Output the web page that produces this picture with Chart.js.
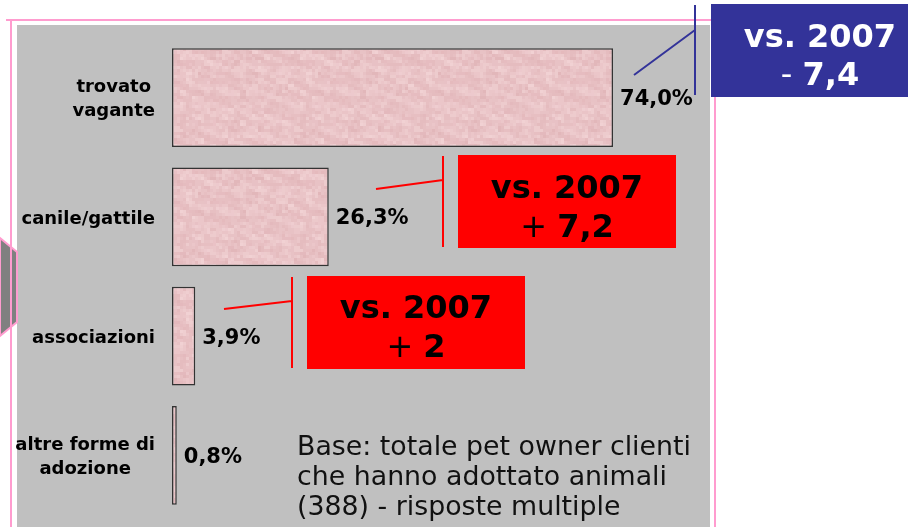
<!DOCTYPE html>
<html>
<head>
<meta charset="utf-8">
<script src="https://cdn.jsdelivr.net/npm/chart.js@4.4.1/dist/chart.umd.min.js"></script>
<style>
  html, body { margin: 0; padding: 0; background: #fff; overflow: hidden; }
  canvas { display: block; }
</style>
</head>
<body>
<canvas id="chart" width="910" height="527"></canvas>
<script>
const categories = [['trovato', 'vagante'], ['canile/gattile'], ['associazioni'], ['altre forme di', 'adozione']];
const shares = [74.0, 26.3, 3.9, 0.8];
const deltaVs2007 = [-7.4, 7.2, 2];
const baseNote = ['Base: totale pet owner clienti', 'che hanno adottato animali', '(388) - risposte multiple'];

const FONT = '"DejaVu Sans", Verdana, sans-serif';
const pct = v => v.toFixed(1).replace('.', ',') + '%';
const delta = v => (Number.isInteger(v) ? String(v) : v.toFixed(1).replace('.', ','));

// deterministic pink "paper" texture like the original fill
function pinkTexture(ctx) {
  const c = document.createElement('canvas');
  c.width = 120; c.height = 120;
  const g = c.getContext('2d');
  g.fillStyle = '#e8c2c5';
  g.fillRect(0, 0, 120, 120);
  const shades = ['rgba(215,160,168,0.18)', 'rgba(250,225,228,0.28)', 'rgba(225,175,182,0.15)', 'rgba(245,215,218,0.22)'];
  for (let layer = 0; layer < 2; layer++) {
    const s = layer ? 6 : 3;
    for (let i = 0; i < 120 / s; i++) {
      for (let j = 0; j < 120 / s; j++) {
        let h = Math.imul(i + 7 * layer + 1, 374761393) + Math.imul(j + 3, 668265263);
        h = Math.imul(h ^ (h >>> 13), 1274126177) >>> 0;
        if (h % 3 === 0) continue;
        g.fillStyle = shades[(h >>> 4) % shades.length];
        g.fillRect(i * s, j * s, s, s);
      }
    }
  }
  return ctx.createPattern(c, 'repeat');
}

// slide background: pink frame, grey panel, arrow stub on the left
const backdrop = {
  id: 'backdrop',
  beforeDraw(chart) {
    const ctx = chart.ctx;
    ctx.save();
    ctx.fillStyle = '#fff';
    ctx.fillRect(0, 0, chart.width, chart.height);
    ctx.fillStyle = '#c0c0c0';
    ctx.fillRect(17, 25, 693, 502);

    ctx.beginPath();
    ctx.moveTo(0, 238); ctx.lineTo(17, 252); ctx.lineTo(17, 322); ctx.lineTo(0, 336);
    ctx.closePath();
    ctx.fillStyle = '#808080';
    ctx.fill();
    ctx.strokeStyle = '#ff9ccf';
    ctx.lineWidth = 2;
    ctx.stroke();

    ctx.beginPath();
    ctx.moveTo(6, 20); ctx.lineTo(716, 20);
    ctx.moveTo(11, 20); ctx.lineTo(11, 527);
    ctx.moveTo(715, 20); ctx.lineTo(715, 527);
    ctx.stroke();
    ctx.restore();
  }
};

// category labels: right-aligned blocks with centred lines, placed on the y scale
const catLabels = {
  id: 'catLabels',
  afterDraw(chart) {
    const ctx = chart.ctx;
    const y = chart.scales.y;
    ctx.save();
    ctx.font = 'bold 18px ' + FONT;
    ctx.fillStyle = '#000';
    ctx.textAlign = 'center';
    ctx.textBaseline = 'middle';
    const lh = 24;
    chart.data.labels.forEach((lines, i) => {
      const w = Math.max(...lines.map(l => ctx.measureText(l).width));
      const cx = chart.chartArea.left - 17 - w / 2;
      const cy = y.getPixelForValue(i) + 2;
      lines.forEach((l, k) => {
        ctx.fillText(l, cx, cy + (k - (lines.length - 1) / 2) * lh);
      });
    });
    ctx.restore();
  }
};

const valueLabels = {
  id: 'valueLabels',
  afterDatasetsDraw(chart) {
    const ctx = chart.ctx;
    ctx.save();
    ctx.font = 'bold 21px ' + FONT;
    ctx.fillStyle = '#000';
    ctx.textAlign = 'left';
    ctx.textBaseline = 'middle';
    chart.getDatasetMeta(0).data.forEach((bar, i) => {
      ctx.fillText(pct(chart.data.datasets[0].data[i]), bar.x + 7, bar.y + 2);
    });
    ctx.restore();
  }
};

// "vs. 2007" call-outs and the base note
const callouts = {
  id: 'callouts',
  afterDraw(chart) {
    const ctx = chart.ctx;
    const boxes = [
      { r: [711, 4, 197, 93], fill: '#333399', ink: '#fff', v: [695, 5, 95], d: [634, 75, 695, 30], cx: 820, b1: 47, b2: 85 },
      { r: [458, 155, 218, 93], fill: '#ff0000', ink: '#000', v: [443, 156, 247], d: [376, 189, 443, 180], cx: 567, b1: 198, b2: 237 },
      { r: [307, 276, 218, 93], fill: '#ff0000', ink: '#000', v: [292, 277, 368], d: [224, 309, 292, 301], cx: 416, b1: 318, b2: 357 }
    ];
    ctx.save();
    boxes.forEach((b, i) => {
      ctx.strokeStyle = b.fill;
      ctx.lineWidth = 2;
      ctx.beginPath();
      ctx.moveTo(b.v[0], b.v[1]); ctx.lineTo(b.v[0], b.v[2]);
      ctx.moveTo(b.d[0], b.d[1]); ctx.lineTo(b.d[2], b.d[3]);
      ctx.stroke();
      ctx.fillStyle = b.fill;
      ctx.fillRect(...b.r);

      ctx.fillStyle = b.ink;
      ctx.textBaseline = 'alphabetic';
      ctx.textAlign = 'center';
      ctx.font = 'bold 32px ' + FONT;
      ctx.fillText('vs. 2007', b.cx, b.b1);

      const d = deltaVs2007[i];
      const sign = d < 0 ? '-' : '+';
      const num = delta(Math.abs(d));
      ctx.font = '32px ' + FONT;
      const sw = ctx.measureText(sign + ' ').width;
      ctx.font = 'bold 32px ' + FONT;
      const nw = ctx.measureText(num).width;
      const x0 = b.cx - (sw + nw) / 2;
      ctx.textAlign = 'left';
      ctx.font = '32px ' + FONT;
      ctx.fillText(sign, x0, b.b2);
      ctx.font = 'bold 32px ' + FONT;
      ctx.fillText(num, x0 + sw, b.b2);
    });

    ctx.fillStyle = '#111';
    ctx.font = '26.8px ' + FONT;
    ctx.textAlign = 'left';
    baseNote.forEach((l, k) => ctx.fillText(l, 297, 455 + k * 30));
    ctx.restore();
  }
};

const ctx = document.getElementById('chart').getContext('2d');

new Chart(ctx, {
  type: 'bar',
  data: {
    labels: categories,
    datasets: [{
      data: shares,
      backgroundColor: pinkTexture(ctx),
      borderColor: '#333',
      borderWidth: 1.5,
      borderSkipped: false,
      categoryPercentage: 0.83,
      barPercentage: 1
    }]
  },
  options: {
    indexAxis: 'y',
    responsive: false,
    animation: false,
    devicePixelRatio: 1,
    layout: { padding: { left: 172, right: 142, top: 38, bottom: 12 } },
    scales: {
      x: { display: false, min: 0, max: 100 },
      y: { display: false }
    },
    plugins: {
      legend: { display: false },
      tooltip: { enabled: false }
    }
  },
  plugins: [backdrop, catLabels, valueLabels, callouts]
});
</script>
</body>
</html>
